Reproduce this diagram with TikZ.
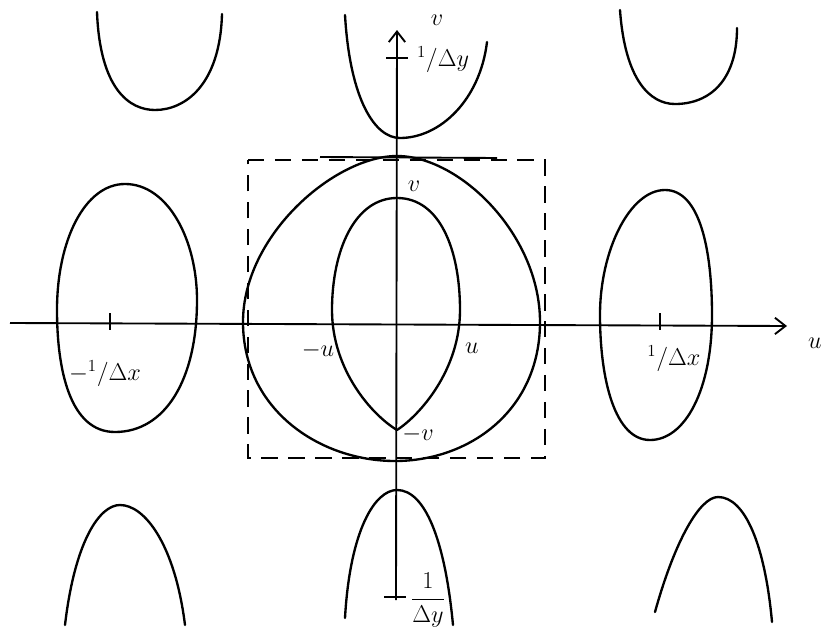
\documentclass[tikz,border=0pt]{standalone}
\usetikzlibrary{arrows.meta}
\begin{document}
\begin{tikzpicture}[x=0.03cm,y=-0.03cm,
  curve/.style={line width=2pt,line cap=round,line join=round},
  axis/.style={line width=1.6pt},
  tick/.style={line width=1.8pt},
  lbl/.style={font=\fontsize{22}{26}\selectfont},
  rectdash/.style={line width=1.6pt,dash pattern=on 14pt off 9pt}]
\useasboundingbox (0,0) rectangle (833,644);
% axes
\coordinate (uL) at (10,323);
\coordinate (uR) at (787,326);
\coordinate (vB) at (396,600);
\coordinate (vT) at (397,30);
\draw[axis,-{Straight Barb[length=9pt,width=14pt,line width=1.6pt]}] (uL) -- (uR);
\draw[axis,-{Straight Barb[length=9pt,width=14pt,line width=1.6pt]}] (vB) -- (vT);
% ticks
\coordinate (tx1a) at (110,313); \coordinate (tx1b) at (110,330);
\coordinate (tx2a) at (660,313); \coordinate (tx2b) at (660,330);
\coordinate (ty1a) at (386,58); \coordinate (ty1b) at (408,58);
\coordinate (ty2a) at (384,597); \coordinate (ty2b) at (406,597);
\draw[tick] (tx1a) -- (tx1b);
\draw[tick] (tx2a) -- (tx2b);
\draw[tick] (ty1a) -- (ty1b);
\draw[tick] (ty2a) -- (ty2b);
% labels
\node[lbl] (lu) at (815,343) {$u$};
\node[lbl] (lv) at (437,20) {$v$};
\node[lbl] (lvt) at (443,60) {$^1/\Delta y$};
\node[lbl] (lvb) at (428,600) {$\displaystyle\frac{1}{\Delta y}$};
\node[lbl] (lxm) at (105,374) {$-^1/\Delta x$};
\node[lbl] (lxp) at (674,359) {$^1/\Delta x$};
\node[lbl] (lum) at (318,350) {$-u$};
\node[lbl] (lup) at (472,348) {$u$};
\node[lbl] (lvp) at (414,186) {$v$};
\node[lbl] (lvm) at (418,434) {$-v$};
% dashed rectangle
\draw[rectdash] (248,160) -- (545,160) -- (545,458) -- (248,458) -- cycle;
\draw[axis] (320,157) -- (497,158);
% central big curve
\draw[curve] (397,156) .. controls (460,156) and (540,235) .. (540,322)
  .. controls (540,410) and (470,461) .. (395,461)
  .. controls (320,461) and (243,410) .. (243,322)
  .. controls (243,235) and (335,156) .. (397,156) -- cycle;
% inner oval
\draw[curve] (397,198) .. controls (440,198) and (460,250) .. (460,310)
  .. controls (460,370) and (420,415) .. (397,430)
  .. controls (372,415) and (332,370) .. (332,310)
  .. controls (332,250) and (355,198) .. (397,198) -- cycle;
% left oval
\draw[curve] (125,184) .. controls (168,184) and (197,240) .. (197,300)
  .. controls (197,380) and (165,432) .. (115,432)
  .. controls (70,432) and (57,370) .. (57,310)
  .. controls (57,240) and (85,184) .. (125,184) -- cycle;
% right oval
\draw[curve] (665,190) .. controls (700,190) and (712,250) .. (712,315)
  .. controls (712,390) and (685,440) .. (650,440)
  .. controls (615,440) and (600,380) .. (600,315)
  .. controls (600,250) and (630,190) .. (665,190) -- cycle;
% top arcs
\draw[curve] (97,12) .. controls (100,90) and (130,110) .. (155,110)
  .. controls (185,110) and (220,85) .. (222,14);
\draw[curve] (345,15) .. controls (350,100) and (375,138) .. (400,138)
  .. controls (440,138) and (480,100) .. (487,42);
\draw[curve] (620,10) .. controls (625,80) and (650,104) .. (675,104)
  .. controls (710,104) and (737,80) .. (737,28);
% bottom arcs
\draw[curve] (65,625) .. controls (75,540) and (100,505) .. (120,505)
  .. controls (145,505) and (175,545) .. (185,625);
\draw[curve] (345,618) .. controls (350,530) and (375,490) .. (397,490)
  .. controls (425,490) and (445,540) .. (453,625);
\draw[curve] (655,612) .. controls (675,540) and (700,497) .. (718,497)
  .. controls (745,497) and (765,545) .. (772,622);
\end{tikzpicture}
\end{document}
